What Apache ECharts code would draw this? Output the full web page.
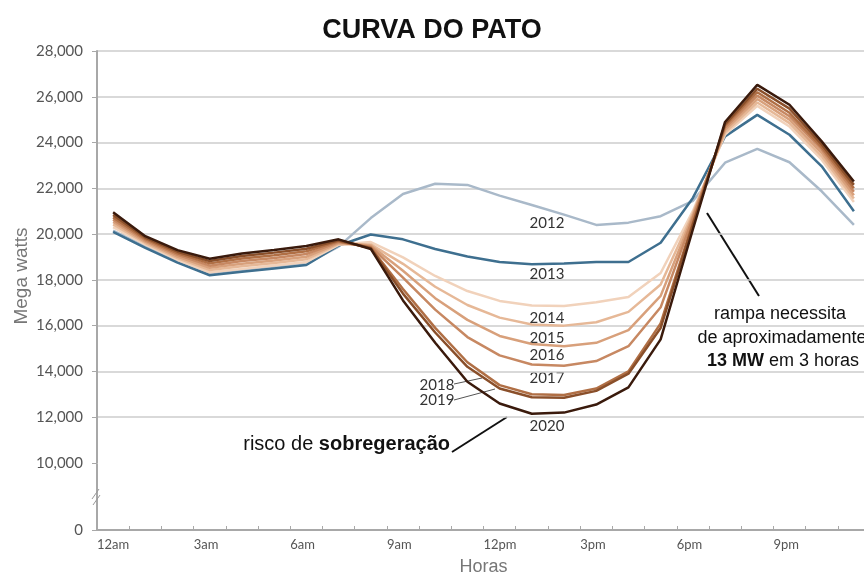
<!DOCTYPE html>
<html>
<head>
<meta charset="utf-8">
<script src="https://cdn.jsdelivr.net/npm/echarts@6/dist/echarts.min.js"></script>
<style>
  html, body { margin: 0; padding: 0; background: #fff; }
  #chart { width: 864px; height: 577px; }
</style>
</head>
<body>
<div id="chart"></div>
<script>
// horas do dia (0 = 12am)
var hours = [0, 1, 2, 3, 4, 5, 6, 7, 8, 9, 10, 11, 12, 13, 14, 15, 16, 17, 18, 19, 20, 21, 22, 23];
var hourLabels = ['12am', '3am', '6am', '9am', '12pm', '3pm', '6pm', '9pm'];
var yTicks = [0, 10000, 12000, 14000, 16000, 18000, 20000, 22000, 24000, 26000, 28000];
var years = ['2012', '2013', '2014', '2015', '2016', '2017', '2018', '2019', '2020'];

// carga líquida (MW)
var y2012 = [20150, 19450, 18800, 18250, 18400, 18550, 18700, 19450, 20700, 21750, 22200, 22150, 21680, 21270, 20850, 20400, 20500, 20780, 21450, 23120, 23720, 23140, 21870, 20400];
var y2013 = [20100, 19400, 18750, 18200, 18350, 18500, 18650, 19500, 19980, 19770, 19350, 19020, 18780, 18680, 18720, 18780, 18780, 19620, 21580, 24270, 25210, 24340, 22960, 21000];
var y2014 = [20300, 19550, 18880, 18330, 18480, 18630, 18780, 19530, 19650, 18980, 18170, 17510, 17080, 16880, 16860, 17020, 17250, 18300, 21000, 24350, 25600, 24700, 23250, 21400];
var y2015 = [20420, 19610, 18950, 18430, 18590, 18740, 18900, 19570, 19550, 18700, 17700, 16900, 16350, 16050, 16000, 16150, 16600, 17800, 20900, 24450, 25750, 24850, 23400, 21550];
var y2016 = [20530, 19670, 19020, 18530, 18700, 18850, 19010, 19610, 19500, 18400, 17200, 16250, 15550, 15200, 15100, 15250, 15800, 17300, 20800, 24550, 25900, 25000, 23550, 21700];
var y2017 = [20630, 19730, 19090, 18620, 18820, 18960, 19130, 19650, 19450, 18100, 16700, 15500, 14700, 14300, 14250, 14450, 15100, 16800, 20700, 24650, 26050, 25150, 23700, 21850];
var y2018 = [20730, 19790, 19160, 18720, 18930, 19080, 19250, 19690, 19400, 17600, 15900, 14400, 13400, 13000, 12970, 13250, 14000, 16100, 20500, 24750, 26200, 25300, 23800, 22000];
var y2019 = [20840, 19850, 19230, 18820, 19040, 19190, 19360, 19730, 19380, 17400, 15700, 14200, 13250, 12870, 12850, 13150, 13900, 15900, 20400, 24800, 26350, 25480, 23920, 22150];
var y2020 = [20950, 19910, 19300, 18920, 19150, 19300, 19480, 19770, 19350, 17100, 15250, 13550, 12600, 12150, 12200, 12550, 13300, 15400, 20200, 24900, 26520, 25650, 24050, 22300];

var allData = [y2012, y2013, y2014, y2015, y2016, y2017, y2018, y2019, y2020];
var colors = ['#a9b9c9', '#3e6f8f', '#f1d2bb', '#e6b897', '#d8a07b', '#c78862', '#b06f45', '#8a4f2a', '#3a1a0c'];

var chart = echarts.init(document.getElementById('chart'));

var series = allData.map(function (vals, i) {
    return {
        name: years[i],
        type: 'line',
        symbol: 'none',
        silent: true,
        z: 2 + i,
        lineStyle: { color: colors[i], width: 2.5 },
        data: hours.map(function (h, j) { return [h, vals[j]]; })
    };
});

var labelFont = '15px Lato';
var annoFont = '18px "Liberation Sans"';

chart.setOption({
    animation: false,
    backgroundColor: '#fff',
    title: {
        text: 'CURVA DO PATO',
        left: 'center',
        top: 12,
        textStyle: { fontFamily: 'Liberation Sans', fontSize: 27, fontWeight: 'bold', color: '#111' }
    },
    grid: { left: 97, right: -6, top: 51, bottom: 47, outerBoundsMode: 'none', containLabel: false },
    xAxis: {
        type: 'value',
        min: -0.5,
        max: 23.5,
        interval: 1,
        name: 'Horas',
        nameLocation: 'middle',
        nameGap: 28,
        nameTextStyle: { fontFamily: 'Liberation Sans', fontSize: 18, color: '#777' },
        axisLine: { onZero: false, lineStyle: { color: '#a8a8a8', width: 2 } },
        axisTick: { inside: true, length: 4, lineStyle: { color: '#a8a8a8', width: 1 } },
        splitLine: { show: false },
        axisLabel: {
            align: 'left',
            margin: 8,
            fontFamily: 'Lato',
            fontSize: 13,
            color: '#555',
            showMinLabel: true,
            formatter: function (v) {
                var h = Math.round(v + 0.5);
                return h % 3 === 0 && hourLabels[h / 3] ? hourLabels[h / 3] : '';
            }
        }
    },
    yAxis: {
        type: 'value',
        min: 0,
        max: 28000,
        interval: 2000,
        breaks: [{ start: 0, end: 10000, gap: '14%' }],
        breakArea: { show: false },
        axisLine: { show: true, onZero: false, lineStyle: { color: '#a8a8a8', width: 2 } },
        axisTick: { show: true, length: 5, lineStyle: { color: '#a8a8a8' } },
        splitLine: { lineStyle: { color: '#cdcdcd', width: 1.5 } },
        axisLabel: {
            margin: 14,
            fontFamily: 'Lato',
            fontSize: 15,
            color: '#555',
            formatter: function (v) {
                return yTicks.indexOf(v) >= 0 ? v.toLocaleString('en-US') : '';
            }
        }
    },
    series: series,
    graphic: [
        { type: 'text', x: 22, y: 276, rotation: Math.PI / 2,
          style: { text: 'Mega watts', font: '19px "Liberation Sans"', fill: '#777', align: 'center', verticalAlign: 'middle' } },
        // eixo contínuo na zona de quebra e marca //
        { type: 'line', shape: { x1: 97, y1: 464, x2: 97, y2: 531 }, style: { stroke: '#a8a8a8', lineWidth: 2 } },
        { type: 'line', shape: { x1: 92, y1: 499, x2: 99, y2: 489 }, style: { stroke: '#999', lineWidth: 1 } },
        { type: 'line', shape: { x1: 93, y1: 505, x2: 100, y2: 495 }, style: { stroke: '#999', lineWidth: 1 } },
        // rótulos dos anos
        { type: 'text', x: 547, y: 223, style: { text: '2012', font: labelFont, fill: '#333', align: 'center', verticalAlign: 'middle' } },
        { type: 'text', x: 547, y: 274, style: { text: '2013', font: labelFont, fill: '#333', align: 'center', verticalAlign: 'middle' } },
        { type: 'text', x: 547, y: 318, style: { text: '2014', font: labelFont, fill: '#333', align: 'center', verticalAlign: 'middle' } },
        { type: 'text', x: 547, y: 338, style: { text: '2015', font: labelFont, fill: '#333', align: 'center', verticalAlign: 'middle' } },
        { type: 'text', x: 547, y: 355, style: { text: '2016', font: labelFont, fill: '#333', align: 'center', verticalAlign: 'middle' } },
        { type: 'text', x: 547, y: 378, style: { text: '2017', font: labelFont, fill: '#333', align: 'center', verticalAlign: 'middle' } },
        { type: 'text', x: 437, y: 385, style: { text: '2018', font: labelFont, fill: '#333', align: 'center', verticalAlign: 'middle' } },
        { type: 'text', x: 437, y: 400, style: { text: '2019', font: labelFont, fill: '#333', align: 'center', verticalAlign: 'middle' } },
        { type: 'text', x: 547, y: 426, style: { text: '2020', font: labelFont, fill: '#333', align: 'center', verticalAlign: 'middle' } },
        { type: 'line', shape: { x1: 454, y1: 384, x2: 482, y2: 378 }, style: { stroke: '#555', lineWidth: 1 } },
        { type: 'line', shape: { x1: 454, y1: 400, x2: 495, y2: 389 }, style: { stroke: '#555', lineWidth: 1 } },
        // anotações
        { type: 'text', x: 450, y: 444,
          style: { text: 'risco de {b|sobregeração}', font: '20px "Liberation Sans"', fill: '#111', align: 'right', verticalAlign: 'middle',
                   rich: { b: { fontWeight: 'bold', fontFamily: 'Liberation Sans', fontSize: 20, fill: '#111' } } } },
        { type: 'line', shape: { x1: 452, y1: 452, x2: 507, y2: 417 }, style: { stroke: '#111', lineWidth: 2 } },
        { type: 'text', x: 780, y: 314, style: { text: 'rampa necessita', font: annoFont, fill: '#111', align: 'center', verticalAlign: 'middle' } },
        { type: 'text', x: 782, y: 338, style: { text: 'de aproximadamente', font: annoFont, fill: '#111', align: 'center', verticalAlign: 'middle' } },
        { type: 'text', x: 783, y: 361,
          style: { text: '{b|13 MW} em 3 horas', font: annoFont, fill: '#111', align: 'center', verticalAlign: 'middle',
                   rich: { b: { fontWeight: 'bold', fontFamily: 'Liberation Sans', fontSize: 18, fill: '#111' } } } },
        { type: 'line', shape: { x1: 707, y1: 213, x2: 759, y2: 296 }, style: { stroke: '#111', lineWidth: 2 } }
    ]
});
</script>
</body>
</html>
